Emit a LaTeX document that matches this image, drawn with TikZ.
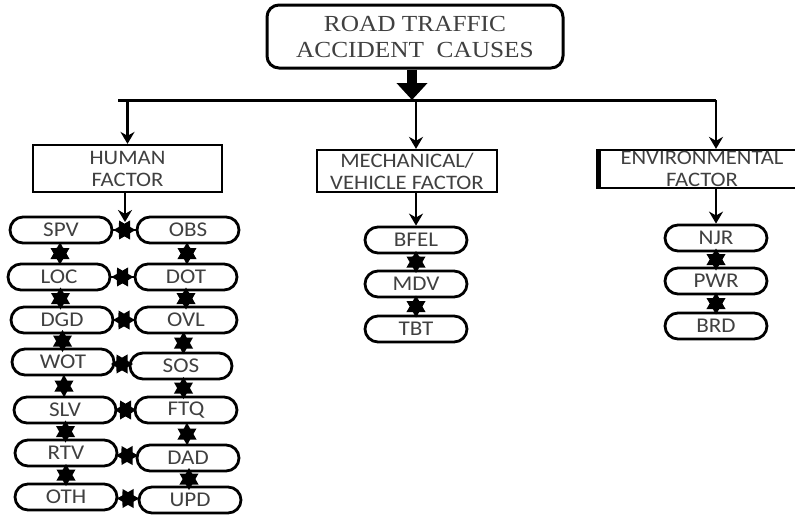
\documentclass[tikz,border=0pt]{standalone}
\usepackage{fontspec}
\setmainfont{Liberation Serif}[FakeStretch=1.1]
\newfontfamily\calfont{Carlito}[FakeStretch=1.1]
\usetikzlibrary{arrows.meta,shapes.geometric}
\definecolor{textGray}{rgb}{0.25,0.25,0.25}

\begin{document}
\begin{tikzpicture}[x=0.5pt, y=-0.5pt,
  title/.style={draw, line width=1.5pt, rounded corners=6pt, minimum width=148pt, minimum height=31.5pt, align=center, text=textGray, font=\fontsize{11.5}{13}\selectfont},
  factor/.style={draw, line width=1.1pt, align=center, inner sep=0.5pt, text=textGray, font=\calfont\fontsize{10.3}{11}\selectfont},
  pill/.style={draw, line width=1.4pt, rounded corners=6.5pt, minimum width=51pt, minimum height=13pt, inner sep=0pt, text=textGray, font=\calfont\fontsize{10.5}{10}\selectfont},
  drop/.style={-{Stealth[length=6pt,width=7pt]}, line width=1.2pt},
  starmark/.style={star, star points=6, star point ratio=1.73, fill=black, minimum size=11pt, inner sep=0pt},
  link/.style={line width=1pt}]
	\useasboundingbox (0,0) rectangle (795,514);
	% root and branches
	\node[title] (root) at (415,36.5) {ROAD TRAFFIC\\ACCIDENT\ \ CAUSES};
	\node[factor, minimum width=94.5pt, minimum height=23.5pt] (human) at (127.5,168.5) {HUMAN\\FACTOR};
	\node[factor, minimum width=90pt, minimum height=21pt] (mech) at (407,171) {MECHANICAL/\\VEHICLE FACTOR};
	\node[factor, minimum width=102.5pt, minimum height=19pt] (env) at (702,169) {ENVIRONMENTAL\\FACTOR};
	\draw[line width=2pt] (env.north west) -- (env.south west);
	% human factor pills
	\node[pill] (spv) at (61,230) {SPV};
	\node[pill] (loc) at (59,277) {LOC};
	\node[pill] (dgd) at (62,320) {DGD};
	\node[pill] (wot) at (63,362) {WOT};
	\node[pill] (slv) at (65,410) {SLV};
	\node[pill] (rtv) at (66,453) {RTV};
	\node[pill] (oth) at (66,497) {OTH};
	\node[pill] (obs) at (188,230) {OBS};
	\node[pill] (dot) at (186,277) {DOT};
	\node[pill] (ovl) at (186,320) {OVL};
	\node[pill] (sos) at (181,366) {SOS};
	\node[pill] (ftq) at (186,410) {FTQ};
	\node[pill] (dad) at (188,458) {DAD};
	\node[pill] (upd) at (190,500) {UPD};
	% mechanical and environmental pills
	\node[pill] (bfel) at (416,240) {BFEL};
	\node[pill] (mdv) at (416,284) {MDV};
	\node[pill] (tbt) at (416,329) {TBT};
	\node[pill] (njr) at (716,238) {NJR};
	\node[pill] (pwr) at (716,281) {PWR};
	\node[pill] (brd) at (716,326) {BRD};
	% trunk
	\coordinate (bar) at (412,100);
	\coordinate (barL) at (118,100);
	\coordinate (barR) at (716,100);
	\coordinate (hfork) at (125,222);
	\draw[line width=5pt, -{Triangle[length=8.5pt,width=15pt]}] (root.south -| bar) -- (bar);
	\draw[line width=1.5pt] (barL) -- (barR);
	\draw[drop] (human |- bar) -- (human.north);
	\draw[drop] (bfel |- bar) -- (bfel |- mech.north);
	\draw[drop] (njr |- bar) -- (njr |- env.north);
	\draw[drop] (human.south -| hfork) -- (hfork);
	\draw[drop] (bfel |- mech.south) -- (bfel.north);
	\draw[drop] (njr |- env.south) -- (njr.north);
	% links between causes
	\foreach \a/\b in {spv/loc, loc/dgd, dgd/wot, wot/slv, slv/rtv, rtv/oth,
	                   obs/dot, dot/ovl, ovl/sos, sos/ftq, ftq/dad, dad/upd,
	                   bfel/mdv, mdv/tbt, njr/pwr, pwr/brd}
		\draw[link] (\a) -- node[starmark] {} (\b);
	\foreach \a/\b in {spv/obs, loc/dot, dgd/ovl, wot/sos, slv/ftq, rtv/dad, oth/upd}
		\draw[link] (\a) -- node[starmark, rotate=90] {} (\b);
\end{tikzpicture}
\end{document}
